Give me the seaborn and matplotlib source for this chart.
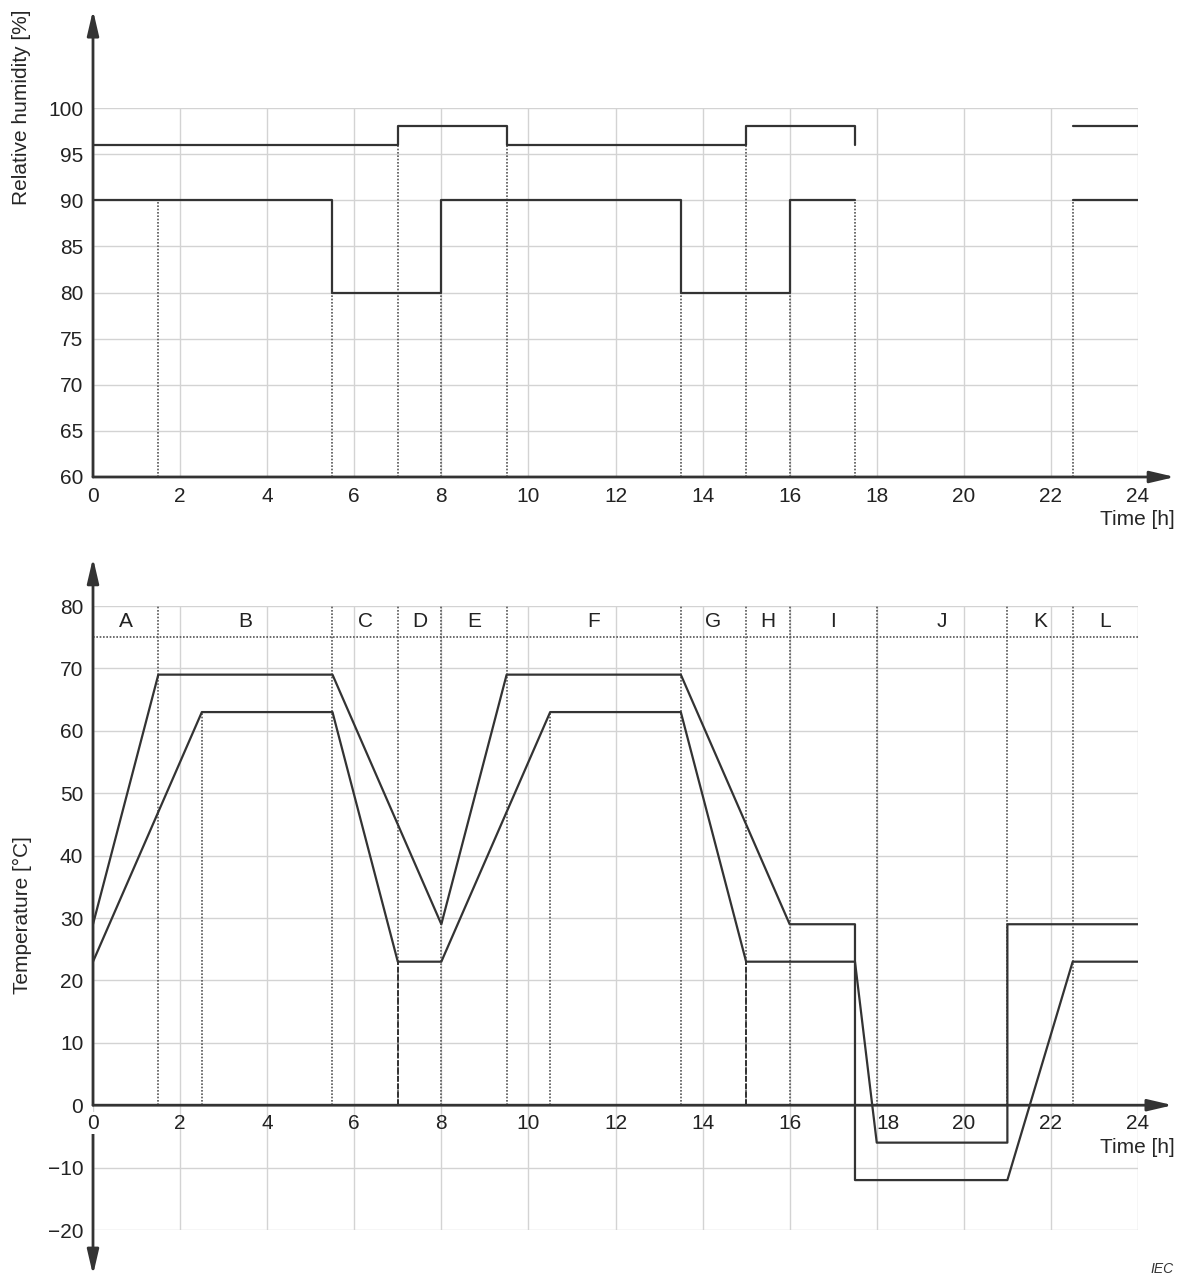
import matplotlib
matplotlib.use('Agg')
import pandas as pd
import matplotlib.pyplot as plt
import seaborn as sns

# ---- relative humidity limits (segment id, time [h], RH [%]) ----
rh_hi_seg = [1, 1, 1, 1, 1, 1, 1, 1, 1, 2, 2]
rh_hi_t = [0, 7, 7, 9.5, 9.5, 15, 15, 17.5, 17.5, 22.5, 24]
rh_hi_v = [96, 96, 98, 98, 96, 96, 98, 98, 96, 98, 98]

rh_lo_seg = [1, 1, 1, 1, 1, 1, 1, 1, 1, 1, 2, 2]
rh_lo_t = [0, 5.5, 5.5, 8, 8, 13.5, 13.5, 16, 16, 17.5, 22.5, 24]
rh_lo_v = [90, 90, 80, 80, 90, 90, 80, 80, 90, 90, 90, 90]

# dotted markers in the humidity panel: time and the level they reach
rh_mark_t = [1.5, 5.5, 7, 8, 9.5, 13.5, 15, 16, 17.5, 22.5]
rh_mark_top = [90, 80, 96, 80, 96, 80, 96, 80, 90, 90]

# ---- temperature limits ----
temp_a_t = [0, 1.5, 5.5, 8, 9.5, 13.5, 16, 17.5, 17.5, 21, 22.5, 24]
temp_a_v = [29, 69, 69, 29, 69, 69, 29, 29, -12, -12, 23, 23]
temp_b_t = [0, 2.5, 5.5, 7, 8, 10.5, 13.5, 15, 17.5, 18, 21, 21, 24]
temp_b_v = [23, 63, 63, 23, 23, 63, 63, 23, 23, -6, -6, 29, 29]

# phases A..L and their boundaries
phase_names = list('ABCDEFGHIJKL')
phase_bounds = [0, 1.5, 5.5, 7, 8, 9.5, 13.5, 15, 16, 18, 21, 22.5, 24]
phase_line = 75
phase_label_y = 77.5
# extra dotted markers reaching the 63 degC plateau
plateau_marks = [2.5, 10.5]
plateau_level = 63
# dashed parts below the 23 degC hold
dashed_marks = [7, 15]
dashed_level = 23

time_ticks = list(range(0, 25, 2))
rh_ticks = list(range(60, 101, 5))
temp_ticks = list(range(-20, 81, 10))

LINE = '#333333'
GRID = '#d3d3d3'
DOT = '#555555'

sns.set_theme(style='white')
plt.rcParams['font.family'] = ['Liberation Sans', 'DejaVu Sans']

W, H = 1183, 1280
fig = plt.figure(figsize=(W / 100, H / 100), dpi=100)
x0, x1 = 93, 1138
ax1 = fig.add_axes([x0 / W, 1 - 477 / H, (x1 - x0) / W, (477 - 108) / H])
ax2 = fig.add_axes([x0 / W, 1 - 1230 / H, (x1 - x0) / W, (1230 - 606) / H])

for ax in (ax1, ax2):
    for s in ax.spines.values():
        s.set_visible(False)
    ax.set_xlim(0, 24)
    ax.grid(True, color=GRID, lw=1)
    ax.set_axisbelow(True)
    ax.tick_params(length=0, labelsize=15, pad=7, colors='#222222')

arrow = dict(arrowstyle='-|>,head_length=1.5,head_width=0.35', color=LINE,
             lw=2, mutation_scale=10, shrinkA=0, shrinkB=0)

# ================= humidity panel =================
rh = pd.concat([
    pd.DataFrame({'t': rh_hi_t, 'v': rh_hi_v, 'seg': rh_hi_seg, 'curve': 'hi'}),
    pd.DataFrame({'t': rh_lo_t, 'v': rh_lo_v, 'seg': rh_lo_seg, 'curve': 'lo'}),
])
rh['unit'] = rh['curve'] + rh['seg'].astype(str)
for m_t, m_top in zip(rh_mark_t, rh_mark_top):
    ax1.plot([m_t, m_t], [60, m_top], color=DOT, lw=1.2, ls=(0, (1, 1)), zorder=2)
sns.lineplot(data=rh, x='t', y='v', units='unit', estimator=None, sort=False,
             color=LINE, lw=1.6, ax=ax1, zorder=3)
ax1.set_ylim(60, 100)
ax1.set_xticks(time_ticks)
ax1.set_yticks(rh_ticks)
ax1.set_xlabel('')
ax1.set_ylabel('')
ax1.annotate('', xy=(0, 110.6), xytext=(0, 60), arrowprops=arrow, annotation_clip=False)
ax1.annotate('', xy=(24.85, 60), xytext=(0, 60), arrowprops=arrow, annotation_clip=False)
ax1.text(24.85, 55.4, 'Time [h]', ha='right', va='center', fontsize=15, clip_on=False)
fig.text(22 / W, 1 - 107 / H, 'Relative humidity [%]', rotation=90,
         ha='center', va='center', fontsize=15)

# ================= temperature panel =================
temp = pd.concat([
    pd.DataFrame({'t': temp_a_t, 'v': temp_a_v, 'curve': 'a'}),
    pd.DataFrame({'t': temp_b_t, 'v': temp_b_v, 'curve': 'b'}),
])
for b in phase_bounds[1:-1]:
    ax2.plot([b, b], [0, 80], color=DOT, lw=1.2, ls=(0, (1, 1)), zorder=2)
for b in plateau_marks:
    ax2.plot([b, b], [0, plateau_level], color=DOT, lw=1.2, ls=(0, (1, 1)), zorder=2)
for b in dashed_marks:
    ax2.plot([b, b], [0, dashed_level], color=LINE, lw=1.4, ls=(0, (3, 1)), zorder=2)
ax2.plot([0, 24], [phase_line, phase_line], color=DOT, lw=1.2, ls=(0, (1, 1)), zorder=2)
for name, lo, hi in zip(phase_names, phase_bounds[:-1], phase_bounds[1:]):
    ax2.text((lo + hi) / 2, phase_label_y, name, ha='center', va='center',
             fontsize=15, color='#222222')
sns.lineplot(data=temp, x='t', y='v', units='curve', estimator=None, sort=False,
             color=LINE, lw=1.6, ax=ax2, zorder=3)
ax2.set_ylim(-20, 80)
ax2.set_xticks(time_ticks)
ax2.set_xticklabels([])
ax2.set_yticks(temp_ticks)
ax2.set_yticklabels(['\u221220', '\u221210'] + [str(v) for v in temp_ticks[2:]])
ax2.set_xlabel('')
ax2.set_ylabel('')
for t in time_ticks:
    dx = 8 if t == 18 else 0
    box = dict(facecolor='white', edgecolor='none', pad=1) if t == 0 else None
    ax2.annotate(str(t), xy=(t, 0), xytext=(dx, -6), textcoords='offset points',
                 ha='center', va='top', fontsize=15, color='#222222', bbox=box,
                 annotation_clip=False, zorder=4)
ax2.annotate('', xy=(0, 87.7), xytext=(0, 0), arrowprops=arrow, annotation_clip=False)
ax2.annotate('', xy=(0, -27.2), xytext=(0, -4.5), arrowprops=arrow, annotation_clip=False)
ax2.annotate('', xy=(24.8, 0), xytext=(0, 0), arrowprops=arrow, annotation_clip=False)
ax2.text(24.85, -6.7, 'Time [h]', ha='right', va='center', fontsize=15, clip_on=False)
fig.text(22 / W, 1 - 915 / H, 'Temperature [\u00b0C]', rotation=90,
         ha='center', va='center', fontsize=15)

fig.text(1150 / W, 1 - 1262 / H, 'IEC', ha='left', va='top', fontsize=10,
         style='italic', color='#333333')

fig.savefig('out.png', dpi=100)
